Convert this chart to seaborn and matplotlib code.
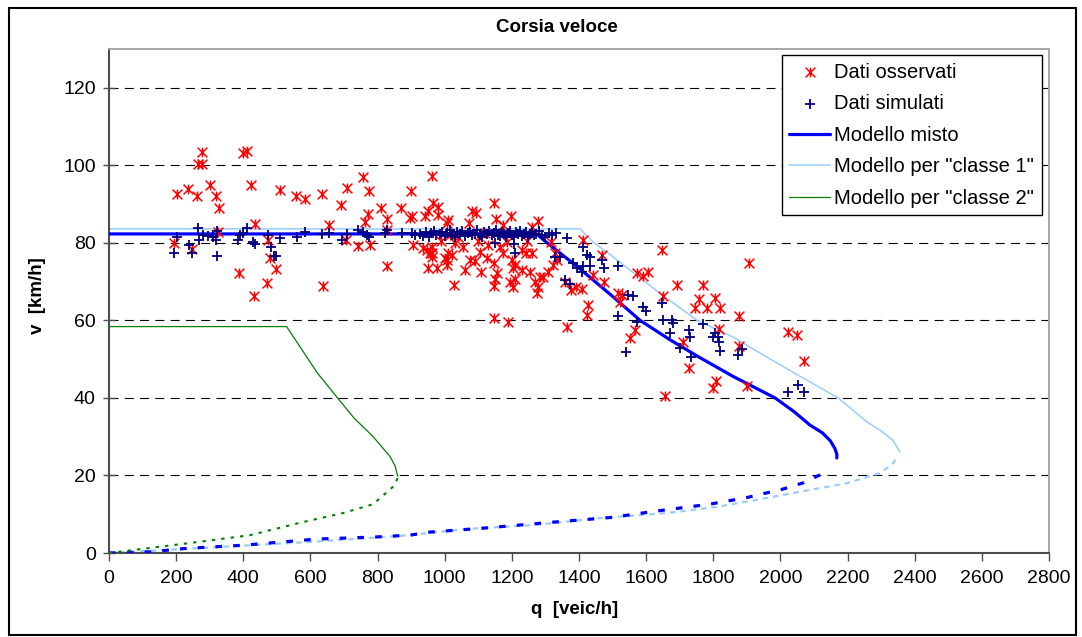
import matplotlib
matplotlib.use("Agg")
import matplotlib.pyplot as plt
from matplotlib.path import Path
from matplotlib.patches import Rectangle
import seaborn as sns

# ---------------- data ----------------
obs_q = [278, 266, 276, 398, 412, 204, 234, 263, 301, 319, 329, 422, 509, 556, 584, 635, 690, 708,
         756, 773, 810, 829, 870, 899, 897, 961, 951, 966, 981, 981, 435, 326, 194, 246, 473, 480,
         497, 388, 472, 433, 638, 656, 706, 741, 763, 772, 778, 827, 827, 907, 902, 946, 961, 951,
         976, 1006, 941, 1006, 990, 1016,
         1011, 1080, 1093, 1071, 1148, 1153, 1279, 936, 961, 956, 963, 1001, 1011, 1021, 1006, 1053,
         1075, 1090, 1105, 1108, 1029, 1148, 1155, 1150, 1148, 1165, 1175, 1185, 1195, 1210, 1204,
         1204, 1210, 1200, 1229, 1242, 1259, 1254, 1269, 1279, 1274, 1284, 1294, 1309, 1324, 1334,
         1317, 1329, 1358, 1375, 1391, 1408, 1413, 1428, 1423, 1148, 1190, 1363, 1441, 1468, 1475,
         1517, 1527, 1522, 1567, 1552, 1574, 1592, 1606, 1646, 1651, 1691, 1756, 1746, 1770, 1780,
         1805, 1820, 1878, 1905, 1818, 2024, 2049, 2071, 1656, 1728, 1710, 1799, 1808, 1900, 1878,
         1040, 1120, 1060, 1125, 1230, 1245, 1260, 1175, 1198, 1100, 1030, 1130]
obs_v = [103.4, 100.4, 100.4, 103.1, 103.8, 92.5, 93.8, 92.1, 94.9, 92.1, 88.9, 94.9, 93.7, 92.2,
         91.3, 92.5, 89.8, 94.2, 97.1, 93.4, 88.9, 86.1, 88.9, 93.4, 86.4, 97.3, 88.1, 90.2, 89.3,
         87.2, 84.8, 82.9, 79.9, 78.4, 80.8, 76.0, 73.2, 72.2, 69.7, 66.4, 68.9, 84.6, 80.8, 79.2,
         85.5, 87.5, 79.5, 73.9, 83.3, 79.5, 86.8, 78.2, 77.3, 73.4, 73.4, 75.6, 86.8, 85.1, 80.5, 82.0,
         85.9, 88.2, 87.8, 85.2, 90.2, 86.1, 85.7, 78.6, 79.0, 77.3, 76.4, 76.0, 77.3, 76.9, 74.3, 79.0,
         75.6, 75.4, 77.7, 72.6, 69.1, 74.7, 72.3, 70.6, 68.9, 79.0, 77.3, 80.3, 70.0, 70.6, 68.7,
         73.5, 74.3, 75.6, 78.2, 77.3, 77.3, 72.6, 70.0, 68.7, 67.0, 71.3, 71.3, 72.6, 74.3, 75.6,
         80.1, 77.3, 70.0, 67.9, 68.7, 68.0, 80.8, 64.0, 61.4, 60.6, 59.7, 58.2, 71.7, 76.9, 70.0,
         67.0, 66.6, 64.8, 57.5, 55.4, 72.2, 71.5, 72.4, 78.2, 66.2, 69.1, 65.5, 63.1, 69.0, 63.1,
         65.7, 63.1, 61.1, 74.7, 57.7, 57.1, 56.2, 49.6, 40.5, 47.7, 54.4, 42.6, 44.4, 43.1, 53.5,
         81.5, 82.5, 73.0, 76.0, 73.0, 80.5, 84.0, 84.5, 87.0, 80.5, 80.0, 79.5]

sim_q = [202, 194, 239, 246, 264, 269, 281, 296, 309, 323, 319, 323, 390, 400, 410, 385, 430, 435,
         473, 482, 490, 497, 509, 559, 584, 634, 656, 693, 708, 743, 758, 768, 775, 822, 829, 872,
         902, 912,
         925, 935, 945, 952, 960, 968, 975, 985, 992, 1000, 1008, 1015, 1022, 1030, 1038, 1045, 1052,
         1060, 1068, 1075, 1082, 1090, 1097, 1104, 1110, 1118, 1125, 1132, 1140, 1146, 1152, 1158,
         1164, 1170, 1176, 1182, 1188, 1194, 1200, 1206, 1212, 1218, 1224, 1230, 1236, 1242, 1248,
         1254, 1260, 1266, 1272, 1280, 1290, 1300, 1310, 1320, 1330, 1210, 1205, 1150,
         1363, 1383, 1393, 1408, 1411, 1358, 1373, 1329, 1343, 1413, 1423, 1433, 1434, 1468, 1475,
         1517, 1545, 1562, 1517, 1592, 1601, 1572, 1646, 1651, 1676, 1681, 1671, 1728, 1770, 1805,
         1815, 1540, 1731, 1800, 1874, 1885, 1820, 1818, 1700, 1735, 2024, 2053, 2071]
sim_v = [81.6, 77.3, 79.5, 77.5, 83.8, 80.8, 82.0, 81.8, 81.6, 83.1, 80.8, 76.5, 82.0, 82.5, 83.8,
         80.8, 80.3, 79.7, 82.0, 79.0, 76.5, 76.5, 81.2, 81.6, 82.9, 82.3, 82.5, 80.8, 82.3, 83.3,
         82.9, 82.0, 81.5, 82.6, 83.2, 82.5, 82.6, 82.0,
         82.3, 81.8, 82.8, 81.5, 82.5, 83.0, 81.9, 82.4, 82.9, 81.7, 82.6, 83.2, 82.0, 81.6, 82.8,
         82.2, 83.1, 81.8, 82.5, 82.9, 81.9, 82.4, 83.3, 82.1, 81.6, 82.7, 82.2, 83.0, 81.9, 82.5,
         83.4, 82.0, 81.7, 82.8, 82.3, 81.5, 82.6, 83.1, 82.0, 81.6, 82.7, 82.2, 83.0, 81.8, 82.4,
         82.9, 81.5, 82.2, 82.7, 81.9, 82.4, 83.0, 82.1, 81.6, 82.5, 81.9, 82.6, 77.5, 79.8, 80.0,
         81.2, 74.7, 73.4, 72.6, 74.0, 70.4, 69.4, 76.3, 76.3, 79.0, 76.9, 76.4, 74.0, 75.6, 73.4,
         73.9, 66.6, 66.2, 61.1, 63.5, 62.5, 59.7, 64.6, 60.1, 60.1, 59.4, 56.7, 57.4, 59.0, 56.7,
         55.8, 51.9, 55.7, 55.7, 51.0, 52.5, 52.0, 54.5, 53.0, 50.5, 41.6, 43.3, 41.6]

# Modello misto (fluid branch solid, congested branch dashed)
misto_q = [0, 400, 800, 1200, 1275, 1305, 1400, 1500, 1582, 1671, 1760, 1860, 1984, 2040, 2088,
           2125, 2148, 2162, 2168, 2168]
misto_v = [82.3, 82.3, 82.3, 82.3, 82.2, 80.0, 73.5, 66.2, 60.0, 55.0, 50.4, 45.5, 40.0, 36.5,
           33.0, 31.0, 29.0, 27.0, 25.5, 24.5]
misto_cq = [0, 122, 232, 399, 620, 787, 897, 956, 1100, 1343, 1500, 1620, 1790, 1900, 2008, 2068, 2124]
misto_cv = [0, 0.3, 1.2, 2.0, 3.6, 4.1, 4.6, 5.4, 6.3, 8.1, 9.2, 10.7, 12.6, 14.3, 16.5, 18.1, 20.4]

# Modello per "classe 1"
c1_q = [0, 1403, 1442, 1500, 1641, 1752, 1859, 1960, 2060, 2172, 2258, 2300, 2336, 2356]
c1_v = [83.6, 83.6, 80.2, 76.5, 67.0, 60.0, 55.7, 50.5, 45.5, 40.0, 33.8, 31.5, 29.0, 26.0]
c1_cq = [0, 172, 589, 867, 1066, 1263, 1463, 1662, 1811, 1960, 2058, 2198, 2297, 2336, 2350]
c1_cv = [0, 0.8, 2.8, 4.4, 6.2, 7.2, 9.0, 10.3, 11.9, 14.2, 15.8, 18.0, 20.6, 23.2, 25.0]

# Modello per "classe 2"
c2_q = [0, 529, 569, 620, 678, 730, 787, 837, 852, 860]
c2_v = [58.4, 58.4, 53.2, 46.5, 40.3, 34.8, 30.0, 24.9, 22.5, 19.8]
c2_cq = [860, 846, 787, 697, 569, 420, 271, 122, 0]
c2_cv = [19.3, 17.1, 12.6, 10.3, 7.8, 4.6, 2.9, 1.3, 0]

x_ticks = list(range(0, 2801, 200))
y_ticks = list(range(0, 121, 20))

# ---------------- style ----------------
sns.set_theme(style="white")
plt.rcParams['font.family'] = ['Liberation Sans', 'DejaVu Sans']
plt.rcParams['lines.scale_dashes'] = False

W, H = 1082, 637
fig = plt.figure(figsize=(W / 100, H / 100), dpi=100)
fig.patch.set_facecolor('white')
ax = fig.add_axes([109 / W, 1 - 553 / H, 940 / W, 504 / H])
ax.set_facecolor('white')

BLUE = '#0000FF'
LBLUE = '#99CCFF'
GREEN = '#008000'
TICK_FS = 14
LEG_FS = 14.5
LAB_FS = 13.5

# model curves
sns.lineplot(x=misto_q, y=misto_v, sort=False, estimator=None, ax=ax, color=BLUE,
             linewidth=2.3, label='Modello misto', zorder=3)
sns.lineplot(x=misto_cq, y=misto_cv, sort=False, estimator=None, ax=ax, color=BLUE,
             linewidth=2.3, linestyle=(0, (4.8, 8.0)), label='_nolegend_', zorder=3)
sns.lineplot(x=c1_q, y=c1_v, sort=False, estimator=None, ax=ax, color=LBLUE,
             linewidth=1.1, label='Modello per "classe 1"', zorder=2)
sns.lineplot(x=c1_cq, y=c1_cv, sort=False, estimator=None, ax=ax, color=LBLUE,
             linewidth=1.6, linestyle=(0, (4.0, 3.5)), label='_nolegend_', zorder=2)
sns.lineplot(x=c2_q, y=c2_v, sort=False, estimator=None, ax=ax, color=GREEN,
             linewidth=0.9, label='Modello per "classe 2"', zorder=3)
sns.lineplot(x=c2_cq, y=c2_cv, sort=False, estimator=None, ax=ax, color=GREEN,
             linewidth=1.5, linestyle=(0, (2.4, 4.4)), label='_nolegend_', zorder=3)

# scatter data
star = Path([(0, -1), (0, 1), (-1, -1), (1, 1), (-1, 1), (1, -1)],
            [Path.MOVETO, Path.LINETO] * 3)
sns.scatterplot(x=obs_q, y=obs_v, marker=star, s=50, color='#FF0000', edgecolor='#FF0000',
                linewidth=1.1, ax=ax, label='Dati osservati', zorder=5)
sns.scatterplot(x=sim_q, y=sim_v, marker='+', s=60, color='#000080', linewidth=1.3,
                ax=ax, label='Dati simulati', zorder=6)

# axes
ax.set_xlim(0, 2800)
ax.set_ylim(0, 130)
ax.set_xticks(x_ticks)
ax.set_yticks(y_ticks)
ax.set_xticklabels([str(t) for t in x_ticks])
ax.set_yticklabels([str(t) for t in y_ticks])
ax.tick_params(axis='x', bottom=True, direction='out', length=6, width=1, color='#4d4d4d',
               labelsize=TICK_FS, pad=6, labelcolor='black')
ax.tick_params(axis='y', left=True, direction='inout', length=9, width=1, color='#4d4d4d',
               labelsize=TICK_FS, pad=5, labelcolor='black')
ax.yaxis.grid(True, color='black', linewidth=0.8, linestyle=(0, (6.5, 4.5)))
ax.xaxis.grid(False)
ax.set_axisbelow(True)
for side in ['left', 'bottom']:
    ax.spines[side].set_color('#4d4d4d')
    ax.spines[side].set_linewidth(1.5)
for side in ['top', 'right']:
    ax.spines[side].set_color('#a0a0a0')
    ax.spines[side].set_linewidth(1.3)

ax.set_xlabel('q  [veic/h]', fontsize=LAB_FS, fontweight='bold', va='center', color='black')
ax.xaxis.set_label_coords((575 - 109) / 940, (553 - 609) / 504)
ax.set_ylabel('v  [km/h]', fontsize=LAB_FS, fontweight='bold', va='center', ha='center',
              color='black')
ax.yaxis.set_label_coords((37 - 109) / 940, (553 - 296) / 504)
ax.set_title('Corsia veloce', fontsize=LAB_FS, fontweight='bold', x=(557 - 109) / 940,
             y=(553 - 28) / 504, va='center', pad=0, color='black')

# legend
handles, labels = ax.get_legend_handles_labels()
order = ['Dati osservati', 'Dati simulati', 'Modello misto', 'Modello per "classe 1"',
         'Modello per "classe 2"']
hmap = dict(zip(labels, handles))
leg = ax.legend([hmap[l] for l in order], order, loc='upper right',
                bbox_to_anchor=(1042 / W, 1 - 55 / H), bbox_transform=fig.transFigure,
                borderaxespad=0, fontsize=LEG_FS, frameon=True, fancybox=False,
                edgecolor='black', framealpha=1, labelspacing=0.62, handlelength=2.05,
                handletextpad=0.2, borderpad=0.38, scatterpoints=1)
leg.get_frame().set_linewidth(1.0)
for t in leg.get_texts():
    t.set_color('black')

# outer chart border
fig.patches.append(Rectangle((9 / W, 1 - 635 / H), (1076 - 9) / W, (635 - 8) / H,
                             transform=fig.transFigure, fill=False, edgecolor='black',
                             linewidth=1.5))

fig.savefig('out.png', dpi=100)
